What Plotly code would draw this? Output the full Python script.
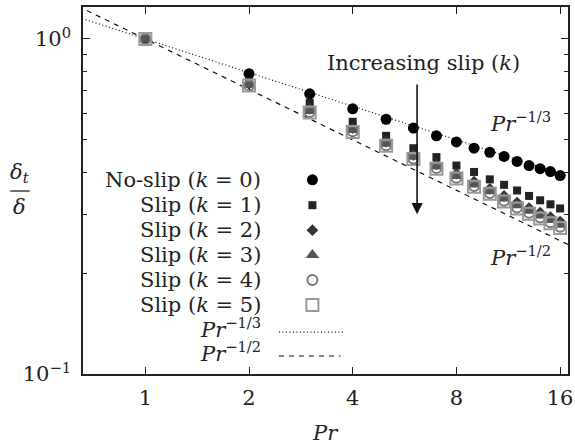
import math
import plotly.graph_objects as go

# ---------------- data ----------------
pr = [1, 2, 3, 4, 5, 6, 7, 8, 9, 10, 11, 12, 13, 14, 15, 16]
k0 = [1.0, 0.788, 0.686, 0.619, 0.576, 0.542, 0.514, 0.493, 0.472, 0.459, 0.446, 0.431, 0.419, 0.410, 0.402, 0.391]
k1 = [1.0, 0.746, 0.645, 0.566, 0.514, 0.472, 0.444, 0.419, 0.401, 0.381, 0.367, 0.353, 0.340, 0.330, 0.321, 0.312]
k2 = [1.0, 0.734, 0.619, 0.542, 0.494, 0.451, 0.423, 0.396, 0.375, 0.357, 0.340, 0.325, 0.313, 0.303, 0.294, 0.285]
k3 = [1.0, 0.730, 0.610, 0.535, 0.487, 0.445, 0.416, 0.390, 0.368, 0.351, 0.334, 0.319, 0.307, 0.297, 0.288, 0.279]
k4 = [1.0, 0.727, 0.605, 0.530, 0.482, 0.440, 0.412, 0.385, 0.364, 0.347, 0.329, 0.314, 0.303, 0.293, 0.284, 0.275]
k5 = [1.0, 0.726, 0.603, 0.528, 0.480, 0.438, 0.410, 0.383, 0.362, 0.345, 0.327, 0.312, 0.301, 0.291, 0.282, 0.273]

guide_x = [0.6, 17.0]
exp_third = -1.0 / 3.0
exp_half = -0.5

x_ticks = [1, 2, 4, 8, 16]
x_ticktext = ["1", "2", "4", "8", "16"]
y_ticks = [0.1, 1.0]
y_ticktext = ["10<sup>−1</sup>", "10<sup>0</sup>"]
y_minor = [0.2, 0.3, 0.4, 0.5, 0.6, 0.7, 0.8, 0.9]

labels = ["No-slip (<i>k</i> = 0)", "Slip (<i>k</i> = 1)", "Slip (<i>k</i> = 2)",
          "Slip (<i>k</i> = 3)", "Slip (<i>k</i> = 4)", "Slip (<i>k</i> = 5)"]
guide_labels = ["<i>Pr</i><sup>−1/3</sup>", "<i>Pr</i><sup>−1/2</sup>"]

FONT = "DejaVu Serif"
FS = 21
TXT = "#222222"

styles = [
    dict(symbol="circle", size=11, color="#000000", line=dict(width=0)),
    dict(symbol="square", size=8, color="#222222", line=dict(width=0)),
    dict(symbol="diamond", size=9, color="#333333", line=dict(width=0)),
    dict(symbol="triangle-up", size=12, color="#555555", line=dict(width=0)),
    dict(symbol="circle-open", size=10, color="#777777", line=dict(width=2, color="#777777")),
    dict(symbol="square-open", size=12, color="#999999", line=dict(width=2, color="#999999")),
]
series = [k0, k1, k2, k3, k4, k5]

fig = go.Figure()

# guide lines
fig.add_trace(go.Scatter(x=guide_x, y=[v ** exp_third for v in guide_x], mode="lines",
                         line=dict(color="#111111", width=1.2, dash="1px,2.5px"),
                         showlegend=False, hoverinfo="skip"))
fig.add_trace(go.Scatter(x=guide_x, y=[v ** exp_half for v in guide_x], mode="lines",
                         line=dict(color="#111111", width=1.2, dash="5px,5px"),
                         showlegend=False, hoverinfo="skip"))

for s, st in zip(series, styles):
    fig.add_trace(go.Scatter(x=pr, y=s, mode="markers", marker=st, showlegend=False))

# custom legend on overlay axis (0..1 in both directions)
leg_x = 0.473
leg_rows = [0.529, 0.460, 0.392, 0.324, 0.256, 0.188]
for yy, st in zip(leg_rows, styles):
    fig.add_trace(go.Scatter(x=[leg_x], y=[yy], mode="markers", marker=st,
                             xaxis="x2", yaxis="y2", showlegend=False, hoverinfo="skip"))
fig.add_trace(go.Scatter(x=[0.404, 0.539], y=[0.114, 0.114], mode="lines",
                         line=dict(color="#111111", width=1.2, dash="1px,2.5px"),
                         xaxis="x2", yaxis="y2", showlegend=False, hoverinfo="skip"))
fig.add_trace(go.Scatter(x=[0.404, 0.531], y=[0.049, 0.049], mode="lines",
                         line=dict(color="#111111", width=1.2, dash="5px,5px"),
                         xaxis="x2", yaxis="y2", showlegend=False, hoverinfo="skip"))

annotations = []
for yy, t in zip(leg_rows + [0.124, 0.059], labels + guide_labels):
    annotations.append(dict(xref="paper", yref="paper", x=0.372, y=yy, text=t,
                            xanchor="right", yanchor="middle", showarrow=False,
                            font=dict(family=FONT, size=FS, color=TXT)))

# arrow: increasing slip
ax_x = math.log10(6.15)
annotations.append(dict(x=ax_x, y=math.log10(0.300), ax=ax_x, ay=math.log10(0.739),
                        xref="x", yref="y", axref="x", ayref="y", text="", showarrow=True,
                        arrowhead=2, arrowsize=1.4, arrowwidth=1.6, arrowcolor="#111111"))
annotations.append(dict(x=0.703, y=0.847, xref="paper", yref="paper",
                        text="Increasing slip (<i>k</i>)", showarrow=False, xanchor="center", yanchor="middle",
                        font=dict(family=FONT, size=FS, color=TXT)))
annotations.append(dict(x=0.969, y=0.687, xref="paper", yref="paper", text=guide_labels[0],
                        xanchor="right", yanchor="middle", showarrow=False,
                        font=dict(family=FONT, size=FS, color=TXT)))
annotations.append(dict(x=0.969, y=0.322, xref="paper", yref="paper", text=guide_labels[1],
                        xanchor="right", yanchor="middle", showarrow=False,
                        font=dict(family=FONT, size=FS, color=TXT)))
# y-axis title as a fraction
annotations.append(dict(x=-0.130, y=0.508, xref="paper", yref="paper", text="<i>δ<sub>t</sub></i>",
                        xanchor="center", yanchor="bottom", showarrow=False,
                        font=dict(family=FONT, size=FS, color=TXT)))
annotations.append(dict(x=-0.130, y=0.492, xref="paper", yref="paper", text="<i>δ</i>",
                        xanchor="center", yanchor="top", showarrow=False,
                        font=dict(family=FONT, size=FS, color=TXT)))
# x-axis title
annotations.append(dict(x=0.5, y=-0.161, xref="paper", yref="paper", text="<i>Pr</i>",
                        xanchor="center", yanchor="middle", showarrow=False,
                        font=dict(family=FONT, size=FS, color=TXT)))

shapes = [dict(type="line", xref="paper", yref="paper", x0=-0.150, x1=-0.110, y0=0.4986, y1=0.4986,
               line=dict(color="#222222", width=1.3))]

fig.update_layout(
    width=575, height=448,
    margin=dict(l=83, r=2, t=7, b=74),
    paper_bgcolor="white", plot_bgcolor="white",
    font=dict(family=FONT, size=FS, color=TXT),
    annotations=annotations, shapes=shapes,
    xaxis=dict(type="log", range=[-0.181, 1.227], tickvals=x_ticks, ticktext=x_ticktext,
               ticks="inside", ticklen=7, tickwidth=1, tickcolor="#222222",
               showline=True, linecolor="#222222", linewidth=1.5, mirror="allticks",
               showgrid=False, zeroline=False, tickfont=dict(family=FONT, size=FS),
               ticklabeloverflow="allow", ticklabelstandoff=4),
    yaxis=dict(type="log", range=[-1.0, 0.0955], tickvals=y_ticks, ticktext=y_ticktext,
               ticks="inside", ticklen=7, tickwidth=1, tickcolor="#222222",
               showline=True, linecolor="#222222", linewidth=1.5, mirror="allticks",
               showgrid=False, zeroline=False, tickfont=dict(family=FONT, size=FS),
               ticklabeloverflow="allow", ticklabelstandoff=6,
               minor=dict(tickvals=y_minor, ticks="inside", ticklen=4, tickcolor="#222222", showgrid=False)),
    xaxis2=dict(range=[0, 1], overlaying="x", visible=False, fixedrange=True),
    yaxis2=dict(range=[0, 1], overlaying="y", visible=False, fixedrange=True, anchor="x2"),
    showlegend=False,
)

fig.write_html("out.html", config={"displayModeBar": False},
               post_script="document.body.style.margin='0';")
